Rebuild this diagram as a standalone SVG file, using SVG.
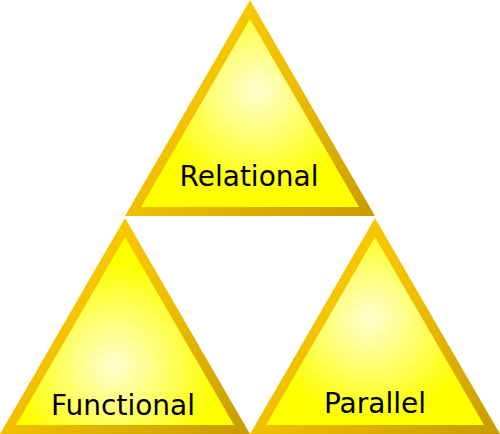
<svg xmlns="http://www.w3.org/2000/svg" width="500" height="434" viewBox="0 0 500 434">
<style>
.lbl{font-family:"DejaVu Sans",Verdana,sans-serif;font-size:28px;fill:#000;text-anchor:middle}
.border{fill:url(#bord)}
</style>
<defs>
<linearGradient id="bord" x1="0" y1="0" x2="1" y2="1">
<stop offset="0" stop-color="#ffd000"/>
<stop offset="0.5" stop-color="#f0c000"/>
<stop offset="1" stop-color="#c99b00"/>
</linearGradient>
<radialGradient id="g1" gradientUnits="userSpaceOnUse" cx="257" cy="90" r="120">
<stop offset="0" stop-color="#ffffd0"/>
<stop offset="0.4" stop-color="#ffff70"/>
<stop offset="0.85" stop-color="#ffff00"/>
</radialGradient>
<radialGradient id="g2" href="#g1" cx="115" cy="365"/>
<radialGradient id="g3" href="#g1" cx="370" cy="318"/>
</defs>
<g id="relational">
<polygon class="border" points="250,0 375,216 125,216"/>
<polygon points="250,19 359,207 141,207" fill="url(#g1)"/>
<text class="lbl" x="249" y="186">Relational</text>
</g>
<g id="functional">
<polygon class="border" points="125,218 250,434 0,434"/>
<polygon points="125,237 234,425 16,425" fill="url(#g2)"/>
<text class="lbl" x="123" y="415">Functional</text>
</g>
<g id="parallel">
<polygon class="border" points="375,218 500,434 250,434"/>
<polygon points="375,237 484,425 266,425" fill="url(#g3)"/>
<text class="lbl" x="375" y="413">Parallel</text>
</g>
<g id="connectors"></g>
</svg>
